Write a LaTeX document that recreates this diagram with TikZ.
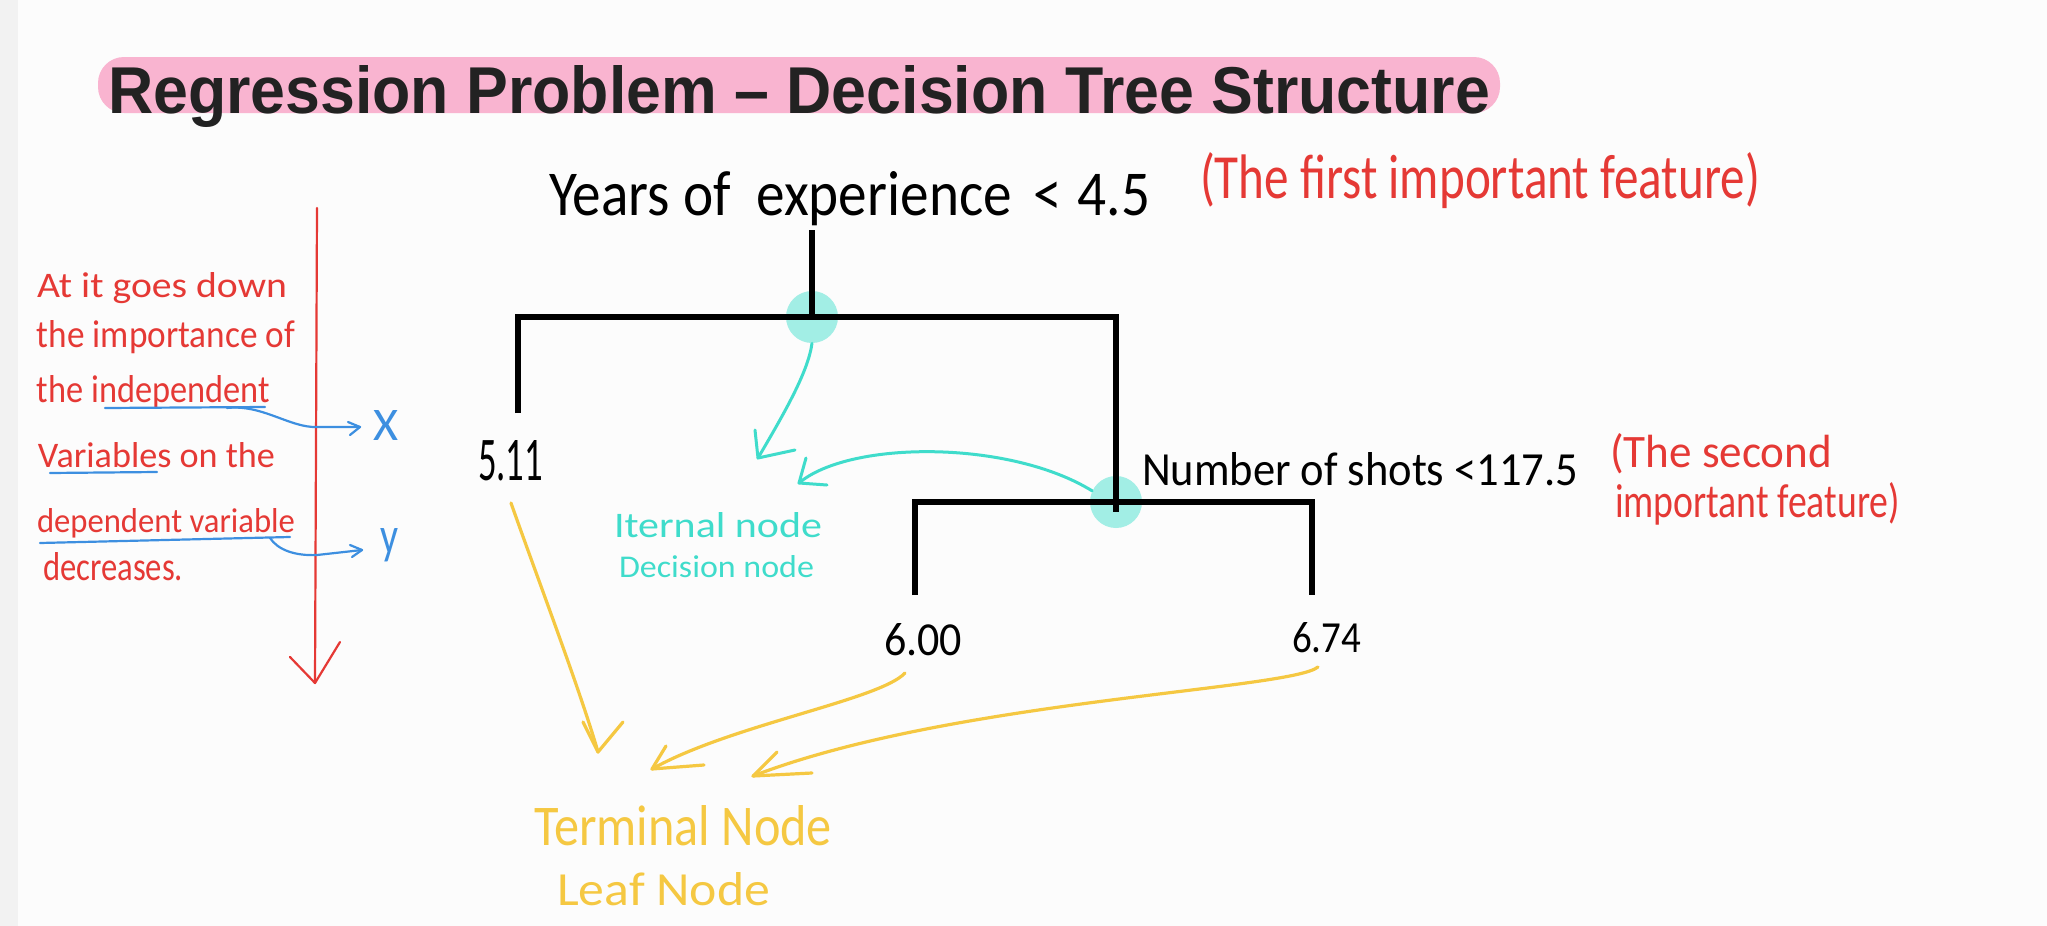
\documentclass[tikz,border=0pt]{standalone}
\usepackage{fontspec}
\setmainfont{Carlito}
\newfontfamily\titlefont{Liberation Sans}
\usetikzlibrary{calc}
\definecolor{bgc}{HTML}{FCFCFC}
\definecolor{stripc}{HTML}{F2F2F2}
\definecolor{pinkc}{HTML}{F9B4D0}
\definecolor{titlec}{HTML}{222222}
\definecolor{redc}{HTML}{E53935}
\definecolor{cyanc}{HTML}{3FDCCB}
\definecolor{cyanfill}{HTML}{A2EEE5}
\definecolor{yellowc}{HTML}{F5C842}
\definecolor{bluec}{HTML}{3D8FE0}
\newcommand\fitbox[3]{\resizebox{#1pt}{#2pt}{#3}}
\tikzset{
  lbl/.style={inner sep=0pt, outer sep=0pt, anchor=base west},
  tree/.style={line width=3pt, line join=miter, draw=black},
  cy/.style={draw=cyanc, line width=1.5pt, line cap=round, line join=round},
  yl/.style={draw=yellowc, line width=1.6pt, line cap=round, line join=round},
  bl/.style={draw=bluec, line width=1.1pt, line cap=round, line join=round},
  rd/.style={draw=redc, line width=1.1pt, line cap=round, line join=round},
  dot/.style={circle, fill=cyanfill, minimum size=26pt, inner sep=0pt}
}
\begin{document}
\begin{tikzpicture}[x=0.5pt,y=-0.5pt]
\fill[bgc] (0,0) rectangle (2047,926);
\useasboundingbox (0,0) rectangle (2047,926);
\fill[stripc] (0,0) rectangle (18,926);

% title
\fill[pinkc, rounded corners=13pt] (98,57) rectangle (1500,113);
\node[lbl, text=titlec] (title) at (108,113) {\fitbox{691}{24}{\titlefont\bfseries Regression Problem – Decision Tree Structure}};

% decision dots
\node[dot] (c1) at (812,317) {};
\node[dot] (c2) at (1116,502) {};

% tree coordinates
\coordinate (r0) at (812,230);
\coordinate (j1) at (812,317);
\coordinate (hL) at (518,317);
\coordinate (hR) at (1116,317);
\coordinate (lL) at (518,413);
\coordinate (j2) at (1116,512);
\coordinate (h2L) at (915,502);
\coordinate (h2R) at (1312,502);
\coordinate (l2L) at (915,595);
\coordinate (l2R) at (1312,595);

\draw[tree] (r0) -- (j1);
\draw[tree] (lL) -- (hL) -- (hR) -- (j2);
\draw[tree] (l2L) -- (h2L) -- (h2R) -- (l2R);

% black labels
\node[lbl] (root) at (549,215) {\fitbox{300.5}{22}{Years of\hspace{0.45em}experience\hspace{0.15em} <\hspace{0.05em} 4.5}};
\node[lbl] (second) at (1142,485) {\fitbox{218}{16.5}{Number of shots <117.5}};
\node[lbl] (v511) at (478,480) {\fitbox{32.5}{20}{5.11}};
\node[lbl] (v600) at (884,655) {\fitbox{39}{16}{6.00}};
\node[lbl] (v674) at (1292,652) {\fitbox{34.5}{15}{6.74}};

% red notes
\node[lbl, text=redc] (f1) at (1200,198) {\fitbox{280}{23}{(The first important feature)}};
\node[lbl, text=redc] (f2a) at (1610,467) {\fitbox{111}{17}{(The second}};
\node[lbl, text=redc] (f2b) at (1615,517) {\fitbox{142.5}{17.5}{important feature)}};

% cyan labels and arrows
\node[lbl, text=cyanc] (int1) at (614,537) {\fitbox{104}{12.5}{Iternal node}};
\node[lbl, text=cyanc] (int2) at (619,577) {\fitbox{97.5}{11}{Decision node}};
\coordinate (ti1) at (758,458);
\coordinate (ti2) at (799,483);
\draw[cy] (c1.south) .. controls (808,372) and (785,412) .. (ti1);
\draw[cy] (ti1) ++(-3,-28) -- (ti1) -- ++(37,-8);
\draw[cy] (c2.155) .. controls (1010,440) and (850,440) .. (ti2);
\draw[cy] (ti2) ++(7,-25) -- (ti2) -- ++(28,2);

% yellow labels and arrows
\node[lbl, text=yellowc] (term1) at (534,845) {\fitbox{149}{20}{Terminal Node}};
\node[lbl, text=yellowc] (term2) at (557,905) {\fitbox{106.5}{16.5}{Leaf Node}};
\coordinate (ys1) at (511,503);
\coordinate (ys2) at (905,673);
\coordinate (ys3) at (1318,667);
\coordinate (yt1) at (598,752);
\coordinate (yt2) at (652,769);
\coordinate (yt3) at (753,776);
\draw[yl] (ys1) .. controls (540,585) and (580,690) .. (yt1);
\draw[yl] (yt1) ++(-15,-30) -- (yt1) -- ++(25,-30);
\draw[yl] (ys2) .. controls (880,700) and (730,725) .. (yt2);
\draw[yl] (yt2) ++(14,-23) -- (yt2) -- ++(52,-4);
\draw[yl] (ys3) .. controls (1290,690) and (950,700) .. (yt3);
\draw[yl] (yt3) ++(24,-24) -- (yt3) -- ++(59,-3);

% left side: red arrow and notes
\coordinate (ra0) at (317,208);
\coordinate (ra1) at (315,683);
\draw[rd] (ra0) -- (ra1);
\draw[rd] (ra1) ++(-25,-26) -- (ra1) -- ++(25,-41);

\node[lbl, text=redc] (n1) at (37,297) {\fitbox{125}{12.5}{At it goes down}};
\node[lbl, text=redc] (n2) at (37,347) {\fitbox{129}{13.5}{the importance of}};
\node[lbl, text=redc] (n3) at (37,402) {\fitbox{116.5}{13.5}{the independent}};
\node[lbl, text=redc] (n4) at (38,467) {\fitbox{118.5}{12.5}{Variables on the}};
\node[lbl, text=redc] (n5) at (37,532) {\fitbox{129}{12}{dependent variable}};
\node[lbl, text=redc] (n6) at (43,580) {\fitbox{70}{14}{decreases.}};

% blue underlines and arrows
\node[lbl, text=bluec] (X) at (373,440) {\fitbox{12.5}{15}{X}};
\node[lbl, text=bluec] (Y) at (380,553) {\fitbox{9}{12.5}{y}};
\coordinate (u1a) at (105,408);
\coordinate (u1b) at (265,407);
\coordinate (u2a) at (50,473);
\coordinate (u2b) at (157,472);
\coordinate (u3a) at (40,543);
\coordinate (u3b) at (290,537);
\coordinate (bs1) at (227,408);
\coordinate (bt1) at (360,427);
\coordinate (bs3) at (270,538);
\coordinate (bt3) at (362,550);
\draw[bl] (u1a) -- (u1b);
\draw[bl] (u2a) -- (u2b);
\draw[bl] (u3a) -- (u3b);
\draw[bl] (bs1) .. controls (262,404) and (290,428) .. (317,427) -- (bt1);
\draw[bl] (bt1) ++(-12,-5) -- (bt1) -- ++(-10,8);
\draw[bl] (bs3) .. controls (278,550) and (295,556) .. (317,555) -- (bt3);
\draw[bl] (bt3) ++(-12,-5) -- (bt3) -- ++(-10,7);
\end{tikzpicture}
\end{document}
